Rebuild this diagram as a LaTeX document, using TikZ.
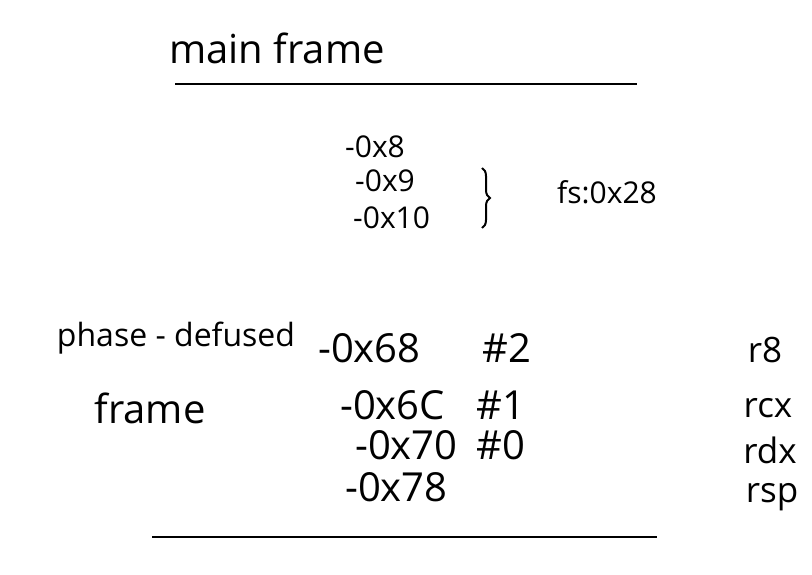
\documentclass[tikz,border=0pt]{standalone}
\usepackage{fontspec}
\setmainfont{Open Sans}
\usetikzlibrary{positioning,decorations.pathreplacing}

\tikzset{
  hand/.style={font=\fontsize{35}{40}\selectfont, inner sep=0pt},
  big/.style={font=\fontsize{40}{46}\selectfont, inner sep=0pt},
  small/.style={font=\fontsize{30}{34}\selectfont, inner sep=0pt},
  slot/.style={big, anchor=west},
  upslot/.style={small, anchor=west},
  rule/.style={line width=2.4pt},
  curly/.style={line width=2pt, decorate, decoration={brace, amplitude=8pt}},
}

\begin{document}
\begin{tikzpicture}[x=1pt,y=-1pt]
\useasboundingbox (0,0) rectangle (812,575);

% main frame
\node[big] (main) at (277,48) {main frame};
\coordinate (mainL) at (175,84);
\coordinate (mainR) at (637,84);
\draw[rule] (mainL) -- (mainR);

\node[upslot] (o8) at (345,147) {-0x8};
\node[upslot] (o9) at (355,181) {-0x9};
\node[upslot] (o10) at (353,218) {-0x10};
\coordinate (bt) at (482,168);
\coordinate (bb) at (482,228);
\draw[curly] (bt) -- (bb);
\node[small] (fs) at (607,192) {fs:0x28};

% phase-defused frame
\node[font=\fontsize{32}{36}\selectfont, inner sep=0pt] (ph) at (176,338) {phase - defused};
\node[big] (fr) at (150,408) {frame};

\node[slot] (o68) at (318,348) {-0x68};
\node[slot] (o6c) at (340,405) {-0x6C};
\node[slot] (o70) at (355,445) {-0x70};
\node[slot] (o78) at (345,487) {-0x78};

\node[slot] (t2) at (482,348) {\#2};
\node[slot] (t1) at (476,405) {\#1};
\node[slot] (t0) at (476,445) {\#0};

\node[hand] (r8) at (765,350) {r8};
\node[hand] (rcx) at (768,408) {rcx};
\node[hand] (rdx) at (770,450) {rdx};
\node[hand] (rsp) at (772,497) {rsp};

\coordinate (phL) at (152,537);
\coordinate (phR) at (657,537);
\draw[rule] (phL) -- (phR);
\end{tikzpicture}
\end{document}
